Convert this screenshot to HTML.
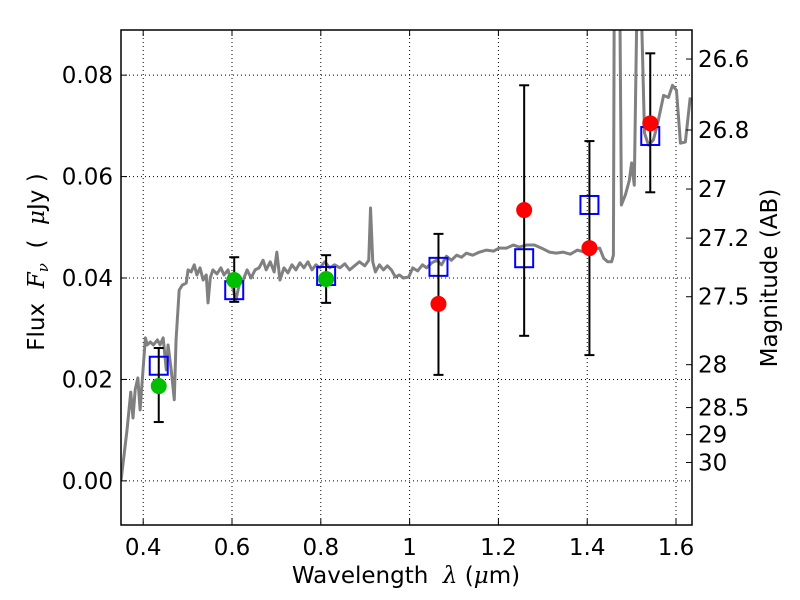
<!DOCTYPE html>
<html><head><meta charset="utf-8"><style>
body{margin:0;background:#fff;}
svg{display:block;font-family:"DejaVu Sans","Liberation Sans",sans-serif;}
text{white-space:pre;}
</style></head><body>
<svg id="chart" width="800" height="600" viewBox="0 0 800 600" xmlns="http://www.w3.org/2000/svg" xml:space="preserve">
<rect width="800" height="600" fill="#fff"/>
<g id="grid"></g>
<g id="spec"></g>
<g id="marks"></g>
<g id="axes"></g>
<text x="406" y="583" font-size="23" text-anchor="middle">Wavelength  <tspan font-style="italic" font-family="DejaVu Serif,serif">λ</tspan> (<tspan font-style="italic" font-family="DejaVu Serif,serif">μ</tspan>m)</text>
<text transform="translate(44,262) rotate(-90)" font-size="23" text-anchor="middle">Flux  <tspan font-style="italic" font-family="DejaVu Serif,serif">F</tspan><tspan font-style="italic" font-family="DejaVu Serif,serif" font-size="15" dy="4">ν</tspan><tspan dy="-4">  (  </tspan><tspan font-style="italic" font-family="DejaVu Serif,serif">μ</tspan>Jy )</text>
<text transform="translate(777,278) rotate(-90)" font-size="23" text-anchor="middle">Magnitude (AB)</text>
</svg>
<script>
const xTicks=[0.4,0.6,0.8,1.0,1.2,1.4,1.6];
const xTickLabels=["0.4","0.6","0.8","1","1.2","1.4","1.6"];
const yTicks=[0,0.02,0.04,0.06,0.08];
const yTickLabels=["0.00","0.02","0.04","0.06","0.08"];
const magTicks=[26.6,26.8,27,27.2,27.5,28,28.5,29,30];
const magTickLabels=["26.6","26.8","27","27.2","27.5","28","28.5","29","30"];
const specLam=[0.35,0.3635,0.372,0.377,0.382,0.388,0.393,0.398,0.405,0.409,0.416,0.423,0.432,0.438,0.445,0.452,0.456,0.463,0.470,0.474,0.481,0.488,0.497,0.501,0.508,0.515,0.521,0.528,0.535,0.542,0.546,0.551,0.557,0.566,0.575,0.582,0.591,0.600,0.609,0.616,0.625,0.634,0.643,0.652,0.661,0.670,0.677,0.686,0.695,0.701,0.708,0.717,0.726,0.735,0.744,0.753,0.762,0.771,0.780,0.789,0.798,0.809,0.820,0.831,0.843,0.854,0.865,0.876,0.887,0.899,0.908,0.912,0.917,0.923,0.932,0.941,0.950,0.959,0.968,0.977,0.986,0.998,1.007,1.018,1.029,1.038,1.050,1.061,1.072,1.083,1.094,1.106,1.117,1.128,1.142,1.157,1.173,1.189,1.202,1.218,1.234,1.247,1.263,1.281,1.297,1.315,1.330,1.346,1.362,1.378,1.394,1.405,1.428,1.437,1.446,1.455,1.459,1.461,1.473,1.477,1.486,1.495,1.500,1.506,1.513,1.520,1.529,1.538,1.549,1.558,1.572,1.583,1.592,1.601,1.610,1.621,1.632];
const specFlux=[0.0,0.0100,0.0175,0.0124,0.018,0.0203,0.014,0.020,0.0282,0.0268,0.0274,0.0268,0.0278,0.0268,0.0282,0.0219,0.0268,0.0219,0.016,0.0278,0.0376,0.0386,0.039,0.0416,0.0412,0.0426,0.0406,0.042,0.0396,0.0406,0.0351,0.04,0.0416,0.0408,0.042,0.0406,0.0416,0.0386,0.0357,0.0386,0.0396,0.0416,0.04,0.0416,0.042,0.0435,0.0416,0.0432,0.0412,0.0451,0.0396,0.042,0.041,0.0426,0.0416,0.043,0.042,0.0432,0.0416,0.0426,0.042,0.0432,0.042,0.0426,0.042,0.0428,0.0416,0.0424,0.0432,0.0424,0.0435,0.0538,0.0432,0.0412,0.0426,0.0416,0.0424,0.0416,0.0402,0.0406,0.04,0.0402,0.042,0.0414,0.0426,0.042,0.043,0.0435,0.0426,0.0443,0.0435,0.0445,0.0441,0.0449,0.0445,0.0451,0.0455,0.0453,0.0459,0.0459,0.0465,0.0461,0.0465,0.0465,0.0459,0.0451,0.0449,0.0451,0.0447,0.0455,0.0451,0.0455,0.0459,0.0439,0.0432,0.0432,0.0445,0.1,0.1,0.0544,0.0564,0.0593,0.0627,0.0583,0.1,0.1,0.0686,0.0662,0.0672,0.0702,0.076,0.0756,0.078,0.077,0.0666,0.0668,0.0756];
const greenLam=[0.435,0.605,0.812];
const greenFlux=[0.0187,0.0396,0.0398];
const greenLo=[0.0116,0.0353,0.0351];
const greenHi=[0.0262,0.0441,0.0445];
const redLam=[1.065,1.258,1.405,1.542];
const redFlux=[0.0349,0.0534,0.0459,0.0705];
const redLo=[0.0209,0.0286,0.0248,0.0569];
const redHi=[0.0487,0.078,0.067,0.0843];
const modelLam=[0.435,0.605,0.812,1.065,1.258,1.405,1.542];
const modelFlux=[0.0227,0.0376,0.0404,0.0422,0.0439,0.0544,0.068];

const L=121,R=692,T=30,B=525;
const X0=0.35,X1=1.636,Y0=-0.0087,Y1=0.0889;
const sx=v=>L+(v-X0)/(X1-X0)*(R-L);
const sy=v=>B-(v-Y0)/(Y1-Y0)*(B-T);
const magToY=m=>sy(Math.pow(10,(23.9-m)/2.5));
const NS="http://www.w3.org/2000/svg";
function mk(tag,attrs,parent){const e=document.createElementNS(NS,tag);for(const k in attrs)e.setAttribute(k,attrs[k]);parent.appendChild(e);return e;}
const grid=document.getElementById('grid'),axes=document.getElementById('axes'),spec=document.getElementById('spec'),marks=document.getElementById('marks');

xTicks.forEach((v,i)=>{const x=sx(v);
 const g=mk('line',{x1:x,x2:x,y1:T,y2:B,stroke:'#000','stroke-width':1,'stroke-dasharray':'1,3'},grid);
 
 mk('line',{x1:x,x2:x,y1:B,y2:B-6,stroke:'#000'},axes);
 mk('line',{x1:x,x2:x,y1:T,y2:T+6,stroke:'#000'},axes);
 const t=mk('text',{x:x,y:B+30,'font-size':23,'text-anchor':'middle'},axes);t.textContent=xTickLabels[i];
 });
yTicks.forEach((v,i)=>{const y=sy(v);
 const g=mk('line',{x1:L,x2:R,y1:y,y2:y,stroke:'#000','stroke-width':1,'stroke-dasharray':'1,3'},grid);
 
 mk('line',{x1:L,x2:L+6,y1:y,y2:y,stroke:'#000'},axes);
 const t=mk('text',{x:L-8,y:y+8,'font-size':23,'text-anchor':'end'},axes);t.textContent=yTickLabels[i];
 });
magTicks.forEach((m,i)=>{const y=magToY(m);
 mk('line',{x1:R,x2:R-6,y1:y,y2:y,stroke:'#000'},axes);
 const t=mk('text',{x:R+6,y:y+8,'font-size':23},axes);t.textContent=magTickLabels[i];
 });
mk('rect',{x:L,y:T,width:R-L,height:B-T,fill:'none',stroke:'#000','stroke-width':1.5},axes);

const cp=mk('clipPath',{id:'clip'},spec);mk('rect',{x:L,y:T,width:R-L,height:B-T},cp);
const sp=mk('polyline',{points:specLam.map((l,i)=>sx(l)+','+sy(specFlux[i])).join(' '),fill:'none',stroke:'#808080','stroke-width':3,'clip-path':'url(#clip)','stroke-linejoin':'round'},spec);


function errbar(l,lo,hi){const x=sx(l);
 mk('line',{x1:x,x2:x,y1:sy(lo),y2:sy(hi),stroke:'#000','stroke-width':2},marks);
 mk('line',{x1:x-5,x2:x+5,y1:sy(lo),y2:sy(lo),stroke:'#000','stroke-width':2},marks);
 mk('line',{x1:x-5,x2:x+5,y1:sy(hi),y2:sy(hi),stroke:'#000','stroke-width':2},marks);}
modelLam.forEach((l,i)=>{const x=sx(l),y=sy(modelFlux[i]);
 const r=mk('rect',{x:x-9,y:y-9,width:18,height:18,fill:'none',stroke:'#0000ff','stroke-width':2},marks);
 });
greenLam.forEach((l,i)=>{errbar(l,greenLo[i],greenHi[i]);
 const c=mk('circle',{cx:sx(l),cy:sy(greenFlux[i]),r:8,fill:'#00bf00'},marks);
 });
redLam.forEach((l,i)=>{errbar(l,redLo[i],redHi[i]);
 const c=mk('circle',{cx:sx(l),cy:sy(redFlux[i]),r:8,fill:'#ff0000'},marks);
 });
</script>
</body></html>
